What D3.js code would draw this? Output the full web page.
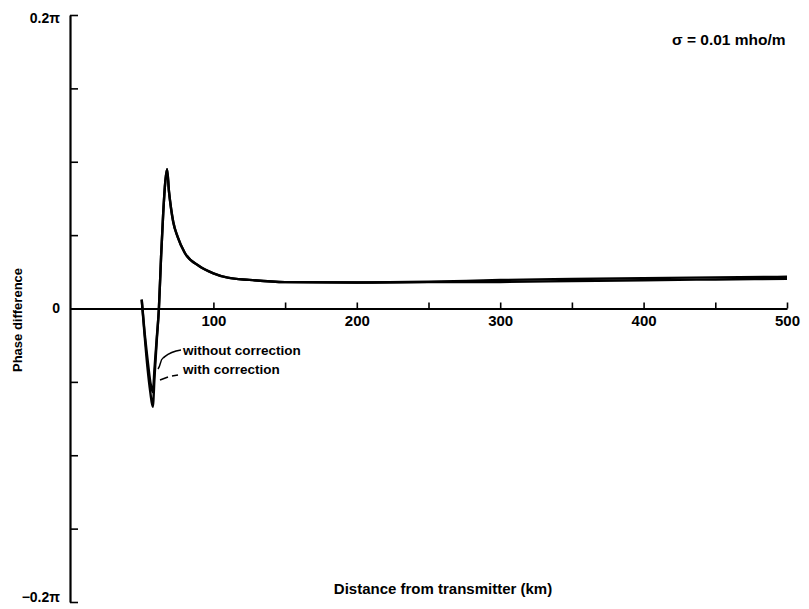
<!DOCTYPE html>
<html>
<head>
<meta charset="utf-8">
<script src="https://cdn.jsdelivr.net/npm/d3@7"></script>
<style>
  body { margin: 0; background: #fff; }
  text { font-family: "Liberation Sans", Arial, sans-serif; font-weight: bold; fill: #000; }
</style>
</head>
<body>
<svg id="chart"></svg>
<script>
// distance (km) and phase difference (in units of pi)
const kmWithout = [50, 52, 54, 56, 57.7, 59, 60.5, 62, 63.5, 65, 66.5, 67.7, 69, 70.5, 72, 75, 80, 90, 100, 110, 125, 150, 200, 250, 300, 350, 400, 450, 500];
const phaseWithout = [0.006, -0.016, -0.034, -0.05, -0.057, -0.04, -0.02, 0, 0.035, 0.065, 0.087, 0.095, 0.08, 0.068, 0.059, 0.049, 0.038, 0.029, 0.024, 0.021, 0.0195, 0.018, 0.0177, 0.0182, 0.0194, 0.0201, 0.0207, 0.0212, 0.0216];
const kmWith = [50, 52, 54, 56, 57.7, 59, 60.5, 62, 63.5, 65, 66.5, 67.7, 69, 70.5, 72, 75, 80, 90, 100, 110, 125, 150, 200, 250, 300, 350, 400, 450, 500];
const phaseWith = [0.006, -0.018, -0.04, -0.057, -0.067, -0.046, -0.022, 0, 0.035, 0.065, 0.087, 0.095, 0.08, 0.068, 0.059, 0.049, 0.038, 0.029, 0.024, 0.021, 0.0195, 0.018, 0.0177, 0.018, 0.0181, 0.0187, 0.0193, 0.0198, 0.0203];

const xTicks = [50, 100, 150, 200, 250, 300, 350, 400, 450, 500];
const xLabels = [100, 200, 300, 400, 500];
const yTicks = [-0.2, -0.15, -0.1, -0.05, 0, 0.05, 0.1, 0.15, 0.2];
const yLabels = {"0.2": "0.2\u03c0", "0": "0", "-0.2": "\u22120.2\u03c0"};

const W = 809, H = 609;
const svg = d3.select("#chart").attr("width", W).attr("height", H);

const x = d3.scaleLinear().domain([0, 500]).range([70, 787]);
const y = d3.scaleLinear().domain([-0.2, 0.2]).range([602, 15]);

// x axis sits on the zero line, ticks pointing up
const xAxis = svg.append("g")
  .attr("transform", "translate(0," + y(0) + ")")
  .call(d3.axisBottom(x).tickValues(xTicks).tickSize(-6).tickSizeOuter(0).tickPadding(7)
    .tickFormat(d => xLabels.includes(d) ? d : ""));
xAxis.select(".domain").attr("stroke-width", 2);
xAxis.selectAll(".tick line").attr("stroke-width", 1.6);
xAxis.selectAll("text").style("font-size", "15px").style("font-family", "Liberation Sans, Arial, sans-serif").style("font-weight", "bold");

const yAxis = svg.append("g")
  .attr("transform", "translate(" + x(0) + ",0)")
  .call(d3.axisLeft(y).tickValues(yTicks).tickSize(-8).tickSizeOuter(0).tickPadding(10)
    .tickFormat(d => yLabels[String(+d.toFixed(2))] || ""));
yAxis.select(".domain").attr("stroke-width", 2.2);
yAxis.selectAll(".tick line").attr("stroke-width", 1.6);
yAxis.selectAll("text").style("font-size", "14px").style("font-family", "Liberation Sans, Arial, sans-serif").style("font-weight", "bold");
// keep the bottom label inside the frame
yAxis.selectAll(".tick").filter(d => d === -0.2).select("text").attr("dy", "-0.05em");
yAxis.selectAll(".tick").filter(d => d === 0.2).select("text").attr("dy", "0.5em");

const line = d3.line().x(d => x(d[0])).y(d => y(d[1])).curve(d3.curveMonotoneX);

svg.append("path")
  .datum(d3.zip(kmWith, phaseWith))
  .attr("d", line).attr("fill", "none").attr("stroke", "#000").attr("stroke-width", 2.4);
svg.append("path")
  .datum(d3.zip(kmWithout, phaseWithout))
  .attr("d", line).attr("fill", "none").attr("stroke", "#000").attr("stroke-width", 2.4);

// annotations
svg.append("path")
  .attr("d", "M158,369 C161,365 160,360 163,358 C166,356 168,352 181,350")
  .attr("fill", "none").attr("stroke", "#000").attr("stroke-width", 1.5);
svg.append("path")
  .attr("d", "M160,380 L168,377 M172,376 L178,375")
  .attr("fill", "none").attr("stroke", "#000").attr("stroke-width", 1.5);
svg.append("text").attr("x", 183).attr("y", 355).style("font-size", "13.5px").text("without correction");
svg.append("text").attr("x", 183).attr("y", 374).style("font-size", "13.5px").text("with correction");

svg.append("text").attr("x", 672).attr("y", 45).style("font-size", "15.5px").text("\u03c3 = 0.01 mho/m");

svg.append("text").attr("x", 443).attr("y", 594).attr("text-anchor", "middle")
  .style("font-size", "15px").text("Distance from transmitter (km)");
svg.append("text").attr("transform", "translate(22,320) rotate(-90)").attr("text-anchor", "middle")
  .style("font-size", "13px").text("Phase difference");
</script>
</body>
</html>
